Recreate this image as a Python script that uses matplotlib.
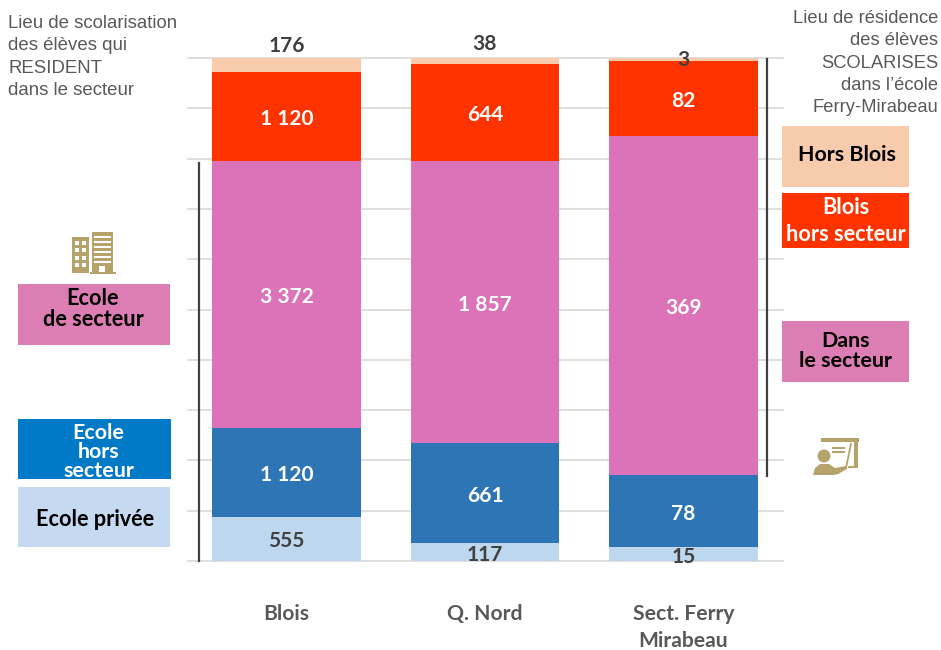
import matplotlib
matplotlib.use("Agg")
import matplotlib.pyplot as plt
from matplotlib.patches import Rectangle, Polygon, Circle
import numpy as np

categories = ["Blois", "Q. Nord", "Sect. Ferry\nMirabeau"]
privee = [555, 117, 15]
hors_secteur = [1120, 661, 78]
secteur = [3372, 1857, 369]
blois_hors = [1120, 644, 82]
hors_blois = [176, 38, 3]

series = [privee, hors_secteur, secteur, blois_hors, hors_blois]
colors = ["#BDD7EE", "#2E75B6", "#DC73B9", "#FF3300", "#F8CBAD"]
label_colors = ["#404040", "white", "white", "white", "#404040"]
top_offsets_px = [12, 14, -2]

BOLD = "Lato"
W, H = 941, 650
fig = plt.figure(figsize=(W / 100, H / 100), dpi=100, facecolor="white")

ax = fig.add_axes([187.5 / W, (H - 561) / H, 595 / W, 503 / H])
arr = np.array(series, dtype=float)
totals = arr.sum(axis=0)
shares = arr / totals
x = np.arange(len(categories))
bottom = np.zeros(len(categories))


def fmt(v):
    return f"{v:,}".replace(",", " ")


for i, (vals, share, c, lc) in enumerate(zip(series, shares, colors, label_colors)):
    ax.bar(x, share, 0.75, bottom=bottom, color=c, zorder=3)
    for j, v in enumerate(vals):
        if i == 4:
            pos, off = bottom[j] + share[j], top_offsets_px[j]
        else:
            pos, off = bottom[j] + share[j] / 2, -2.5
        ax.annotate(fmt(v), (x[j], pos), xytext=(0, off * 0.72),
                    textcoords="offset points", ha="center", va="center", color=lc,
                    fontsize=15, fontweight="bold", family=BOLD, zorder=5, annotation_clip=False)
    bottom += share

ax.set_xlim(-0.5, 2.5)
ax.set_ylim(0, 1)
ax.set_yticks(np.arange(0, 1.01, 0.1))
ax.set_yticklabels([])
ax.set_xticks(x)
ax.set_xticklabels(categories, fontsize=15.2, fontweight="bold", family=BOLD, color="#595959", linespacing=1.45)
ax.tick_params(axis="both", length=0)
ax.tick_params(axis="x", pad=31)
ax.grid(axis="y", color="#D9D9D9", lw=1.2, zorder=0, clip_on=False)
ax.set_axisbelow(True)
for s in ax.spines.values():
    s.set_visible(False)

ov = fig.add_axes([0, 0, 1, 1], facecolor="none")
ov.set_xlim(0, W)
ov.set_ylim(H, 0)
ov.axis("off")

# brackets
ov.plot([199, 199], [163, 561], color="#404040", lw=1.6)
ov.plot([767, 767], [59, 476], color="#404040", lw=1.6)

# legend boxes
boxes = [
    (18, 284, 152, 61, "#DC7EB4", "Ecole\nde secteur", "black", 93, 309, 15.6, 0.95),
    (18, 419, 153, 60, "#0079C6", "Ecole\nhors\nsecteur", "white", 98.5, 452, 15.4, 0.95),
    (18, 487, 152, 60, "#C5D9F0", "Ecole privée", "black", 95, 519, 15.6, 0.95),
    (782, 126, 127, 61, "#F8CBAD", "Hors Blois", "black", 847, 155, 15.4, 0.95),
    (782, 193, 127, 55, "#FF3300", "Blois\nhors secteur", "white", 846, 221, 15.6, 1.38),
    (782, 321, 127, 61, "#DC7EB4", "Dans\nle secteur", "black", 846, 351, 15.4, 0.95),
]
for bx, by, bw, bh, c, t, tc, tx, ty, fs, ls in boxes:
    ov.add_patch(Rectangle((bx, by), bw, bh, color=c, lw=0))
    ov.text(tx, ty, t, ha="center", va="center", color=tc, fontsize=fs, fontweight="bold",
            family=BOLD, linespacing=ls)

# side notes
ov.text(8, 57, "Lieu de scolarisation\ndes élèves qui\nRESIDENT\ndans le secteur", ha="left", va="center",
        color="#595959", fontsize=13.4, family="Liberation Sans", linespacing=1.4)
ov.text(938, 63, "Lieu de résidence\ndes élèves\nSCOLARISES\ndans l’école\nFerry-Mirabeau", ha="right", va="center",
        color="#595959", fontsize=13.2, family="Liberation Sans", linespacing=1.42)

# building icon
gold = "#B5A36B"
ov.add_patch(Rectangle((72, 237), 17, 36, color=gold, lw=0))
for yy in (241, 248, 256, 263):
    for xx in (75, 82):
        ov.add_patch(Rectangle((xx, yy), 4, 4, color="white", lw=0))
ov.add_patch(Rectangle((92, 232), 21, 42, color=gold, lw=0))
for yy in (236, 241, 246, 251, 256, 261):
    ov.add_patch(Rectangle((94, yy), 17, 1.5, color="white", lw=0))
ov.add_patch(Rectangle((99, 266), 6, 6, color="white", lw=0))
ov.add_patch(Rectangle((90, 272), 26, 2, color=gold, lw=0))

# teacher icon
ov.add_patch(Rectangle((821, 438), 38, 4, color=gold, lw=0))
ov.add_patch(Rectangle((854, 441), 4, 27, color=gold, lw=0))
ov.add_patch(Rectangle((848, 466), 10, 2, color=gold, lw=0))
ov.add_patch(Rectangle((832, 447), 13, 2, color=gold, lw=0))
ov.add_patch(Rectangle((832, 451), 13, 2, color=gold, lw=0))
ov.plot([851, 846], [444, 468], color=gold, lw=1.3)
ov.add_patch(Circle((824, 456), 6.5, color=gold, lw=0))
ov.add_patch(Polygon([(813, 475), (815, 468), (820, 464), (829, 464), (835, 468),
                      (846, 466), (847, 469), (838, 474), (834, 475)], color=gold, lw=0))

fig.savefig("out.png", dpi=100, facecolor="white")
